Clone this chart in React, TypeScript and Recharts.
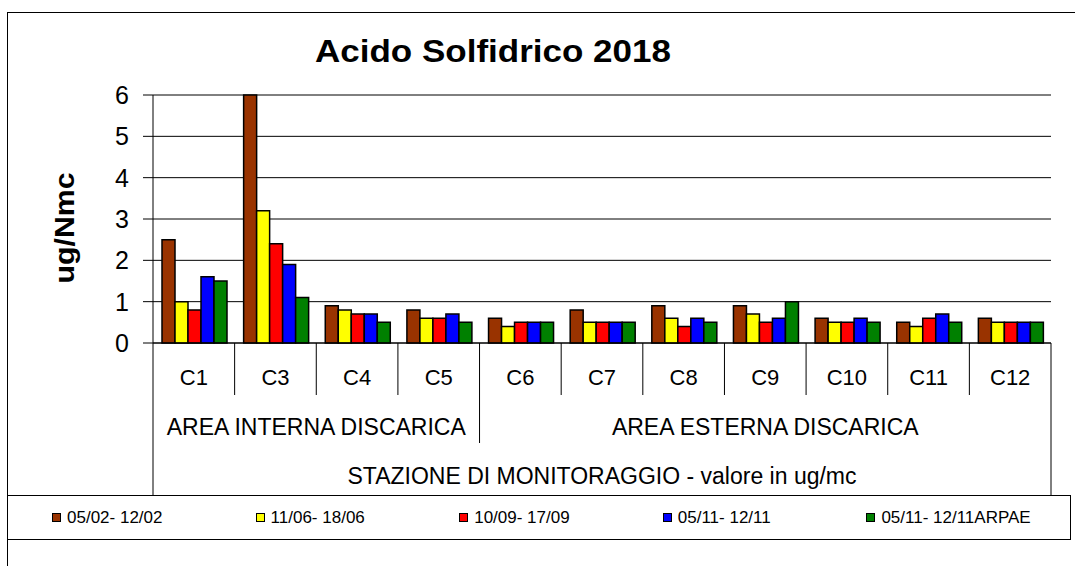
import { BarChart, Bar, XAxis, YAxis, CartesianGrid, Legend } from "recharts";

const categories = ["C1", "C3", "C4", "C5", "C6", "C7", "C8", "C9", "C10", "C11", "C12"];
const groupNames = ["AREA INTERNA DISCARICA", "AREA ESTERNA DISCARICA"];
const groupSizes = [4, 7];
const axisTitle = "STAZIONE DI MONITORAGGIO - valore in ug/mc";

const seriesNames = ["05/02- 12/02", "11/06- 18/06", "10/09- 17/09", "05/11- 12/11", "05/11- 12/11ARPAE"];
const seriesColors = ["#993300", "#FFFF00", "#FF0000", "#0000FF", "#008000"];

const feb = [2.5, 6.0, 0.9, 0.8, 0.6, 0.8, 0.9, 0.9, 0.6, 0.5, 0.6];
const jun = [1.0, 3.2, 0.8, 0.6, 0.4, 0.5, 0.6, 0.7, 0.5, 0.4, 0.5];
const sep = [0.8, 2.4, 0.7, 0.6, 0.5, 0.5, 0.4, 0.5, 0.5, 0.6, 0.5];
const nov = [1.6, 1.9, 0.7, 0.7, 0.5, 0.5, 0.6, 0.6, 0.6, 0.7, 0.5];
const arpae = [1.5, 1.1, 0.5, 0.5, 0.5, 0.5, 0.5, 1.0, 0.5, 0.5, 0.5];
const yTicks = [0, 1, 2, 3, 4, 5, 6];

const seriesValues = [feb, jun, sep, nov, arpae];
const data = categories.map((name, i) => {
  const row: Record<string, string | number> = { name };
  seriesValues.forEach((vals, s) => {
    row["s" + s] = vals[i];
  });
  return row;
});

// group start indexes, built from the sizes
const groupStarts: number[] = [];
groupSizes.reduce((acc, n) => {
  groupStarts.push(acc);
  return acc + n;
}, 0);

const W = 1075;
const H = 566;
const PLOT_LEFT = 153;
const PLOT_RIGHT = 1051;
const PLOT_TOP = 95;
const PLOT_BOTTOM = 343;
const X_AXIS_H = 152;
const FONT = "Arial, 'Liberation Sans', sans-serif";

function CategoryTick(props: any) {
  const { x, payload } = props;
  const i: number = props.index ?? payload.index;
  const cw = (PLOT_RIGHT - PLOT_LEFT) / categories.length;
  const y0 = PLOT_BOTTOM;
  const last = i === categories.length - 1;
  const nextIsGroup = groupStarts.includes(i + 1);
  const rightEnd = last ? 495 : nextIsGroup ? 443 : 395;
  const g = groupStarts.indexOf(i);
  return (
    <g>
      <text x={x} y={y0 + 42} textAnchor="middle" fontSize={22} fill="#000">
        {payload.value}
      </text>
      <line x1={x + cw / 2} x2={x + cw / 2} y1={y0} y2={rightEnd} stroke="#000" />
      {i === 0 && (
        <>
          <line x1={x - cw / 2} x2={x - cw / 2} y1={y0} y2={495} stroke="#000" />
          <text x={(PLOT_LEFT + PLOT_RIGHT) / 2} y={484} textAnchor="middle" fontSize={23} fill="#000">
            {axisTitle}
          </text>
        </>
      )}
      {g >= 0 && (
        <text x={x + ((groupSizes[g] - 1) * cw) / 2} y={435} textAnchor="middle" fontSize={23} fill="#000">
          {groupNames[g]}
        </text>
      )}
    </g>
  );
}

// legend keeps the series order of the original
function LegendBox() {
  return (
    <div style={{ display: "flex", alignItems: "center", height: "100%", paddingLeft: 44, fontFamily: FONT }}>
      {seriesNames.map((n, s) => (
        <div key={n + s} style={{ width: 204, display: "flex", alignItems: "center", fontSize: 17, color: "#000" }}>
          <span
            style={{
              display: "inline-block",
              width: 7,
              height: 7,
              background: seriesColors[s],
              border: "1px solid #000",
              marginRight: 6,
            }}
          />
          {n}
        </div>
      ))}
    </div>
  );
}

export default function App() {
  return (
    <div style={{ position: "absolute", left: 0, top: 0, width: W, height: H, background: "#fff", overflow: "hidden", fontFamily: FONT }}>
      <div
        style={{
          position: "absolute",
          left: 7,
          top: 12,
          width: W,
          height: H,
          borderLeft: "1px solid #000",
          borderTop: "1px solid #000",
        }}
      />
      <div style={{ position: "absolute", left: 0, top: 0 }}>
        <BarChart
          width={W}
          height={H}
          data={data}
          margin={{ top: PLOT_TOP, right: W - PLOT_RIGHT, left: 0, bottom: H - PLOT_BOTTOM - X_AXIS_H }}
          barCategoryGap={9}
          barGap={0}
        >
          <text
            x={493}
            y={62}
            textAnchor="middle"
            fontSize={31}
            fontWeight="bold"
            textLength={356}
            lengthAdjust="spacingAndGlyphs"
            fill="#000"
          >
            Acido Solfidrico 2018
          </text>
          <text
            transform="translate(74,228) rotate(-90)"
            textAnchor="middle"
            fontSize={27}
            fontWeight="bold"
            textLength={111}
            lengthAdjust="spacingAndGlyphs"
            fill="#000"
          >
            ug/Nmc
          </text>
          <CartesianGrid vertical={false} stroke="#000" />
          <XAxis
            dataKey="name"
            height={X_AXIS_H}
            interval={0}
            tickLine={false}
            axisLine={{ stroke: "#000" }}
            tick={<CategoryTick />}
          />
          <XAxis xAxisId="top" orientation="top" dataKey="name" height={0} tick={false} tickLine={false} axisLine={{ stroke: "#999" }} />
          <YAxis
            width={PLOT_LEFT}
            domain={[0, 6]}
            ticks={yTicks}
            interval={0}
            tickSize={10}
            tickMargin={14}
            axisLine={{ stroke: "#000" }}
            tickLine={{ stroke: "#000" }}
            tick={{ fontSize: 25, fill: "#000" }}
          />
          <YAxis yAxisId="right" orientation="right" width={0} tick={false} tickLine={false} axisLine={{ stroke: "#999" }} />
          <Legend
            layout="horizontal"
            verticalAlign="middle"
            align="center"
            wrapperStyle={{
              left: 7,
              top: 495,
              width: 1064,
              height: 45,
              border: "1px solid #000",
              boxSizing: "border-box",
              background: "#fff",
            }}
            content={<LegendBox />}
          />
          {seriesNames.map((n, s) => (
            <Bar
              key={n + s}
              dataKey={"s" + s}
              name={n}
              fill={seriesColors[s]}
              stroke="#000"
              strokeWidth={1.5}
              isAnimationActive={false}
            />
          ))}
        </BarChart>
      </div>
    </div>
  );
}
